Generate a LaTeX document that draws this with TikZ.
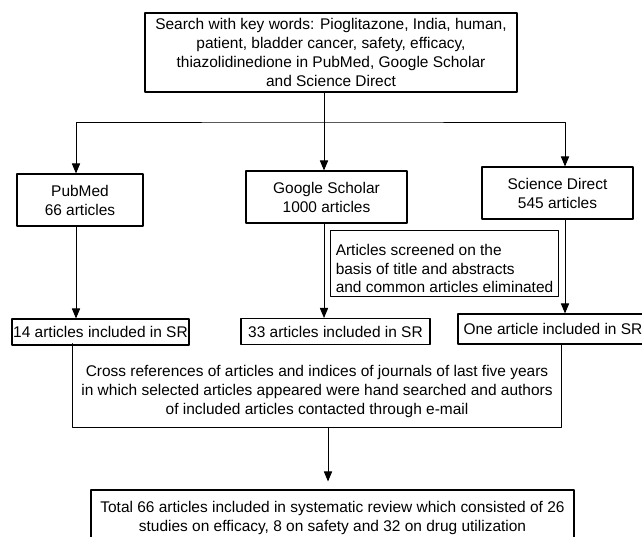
\documentclass[tikz,border=0pt]{standalone}
\usepackage{fontspec}
\setmainfont{Liberation Sans}
\usetikzlibrary{arrows}

\begin{document}
\begin{tikzpicture}[line cap=round,line join=round,>=triangle 45,x=0.75pt,y=-0.75pt,
  txt/.style={inner sep=0pt,align=center,font=\fontsize{11.6}{14.2}\selectfont},
  box/.style={txt,draw,line width=0.9pt},
  flow/.style={line width=0.7pt}]
\useasboundingbox (0,0) rectangle (642,536);

% columns of the arrows
\coordinate (colA) at (76,0);
\coordinate (colB) at (324,0);
\coordinate (colC) at (565,0);
\coordinate (colD) at (328,0);
\coordinate (split) at (324,122);

\node[box,minimum width=279pt,minimum height=59.25pt] (search) at (331,52.5) {Search with key words: Pioglitazone, India, human,\\patient, bladder cancer, safety, efficacy,\\thiazolidinedione in PubMed, Google Scholar\\and Science Direct};

\node[box,minimum width=94.5pt,minimum height=39pt] (pubmed) at (80,200) {PubMed\\66 articles};
\node[box,minimum width=120.75pt,minimum height=39pt] (scholar) at (326.5,197) {Google Scholar\\1000 articles};
\node[box,minimum width=113.25pt,minimum height=39pt] (direct) at (557.5,193) {Science Direct\\545 articles};

% text sits a little low in these two boxes
\node[txt,align=left,minimum width=170.25pt,minimum height=48.75pt] (screen) at (444.5,268.5) {Articles screened on the\\basis of title and abstracts\\and common articles eliminated};
\draw[line width=0.9pt] ([yshift=3.75pt]screen.north west) rectangle ([yshift=3.75pt]screen.south east);

\node[txt,minimum width=366pt,minimum height=62.25pt] (cross) at (317,391.5) {Cross references of articles and indices of journals of last five years\\in which selected articles appeared were hand searched and authors\\of included articles contacted through e-mail};
\draw[line width=0.9pt] ([yshift=4.5pt]cross.north west) -- ([yshift=4.5pt]cross.south west) -- ([yshift=4.5pt]cross.south east) -- ([yshift=4.5pt]cross.north east);

\node[box,minimum width=132.75pt,minimum height=19.5pt] (incl14) at (100.5,332) {14 articles included in SR};
\node[box,minimum width=141.75pt,minimum height=19.5pt] (incl33) at (335.5,331.5) {33 articles included in SR};
\node[box,minimum width=142.5pt,minimum height=22.5pt] (inclone) at (553,329) {One article included in SR};

\node[box,minimum width=362.25pt,minimum height=42pt] (total) at (332.5,518) {Total 66 articles included in systematic review which consisted of 26\\studies on efficacy, 8 on safety and 32 on drug utilization};

\draw[flow,->] (search.south -| colB) -- (scholar.north -| colB);
\draw[flow,<->] (pubmed.north -| colA) |- (split) -| (direct.north -| colC);
\draw[flow,->] (pubmed.south -| colA) -- (incl14.north -| colA);
\draw[flow,->] (scholar.south -| colB) -- (incl33.north -| colB);
\draw[flow,->] (direct.south -| colC) -- (inclone.north -| colC);
\draw[flow,->,shorten >=6pt] ([yshift=4.5pt]cross.south -| colD) -- (total.north -| colD);

\end{tikzpicture}
\end{document}
